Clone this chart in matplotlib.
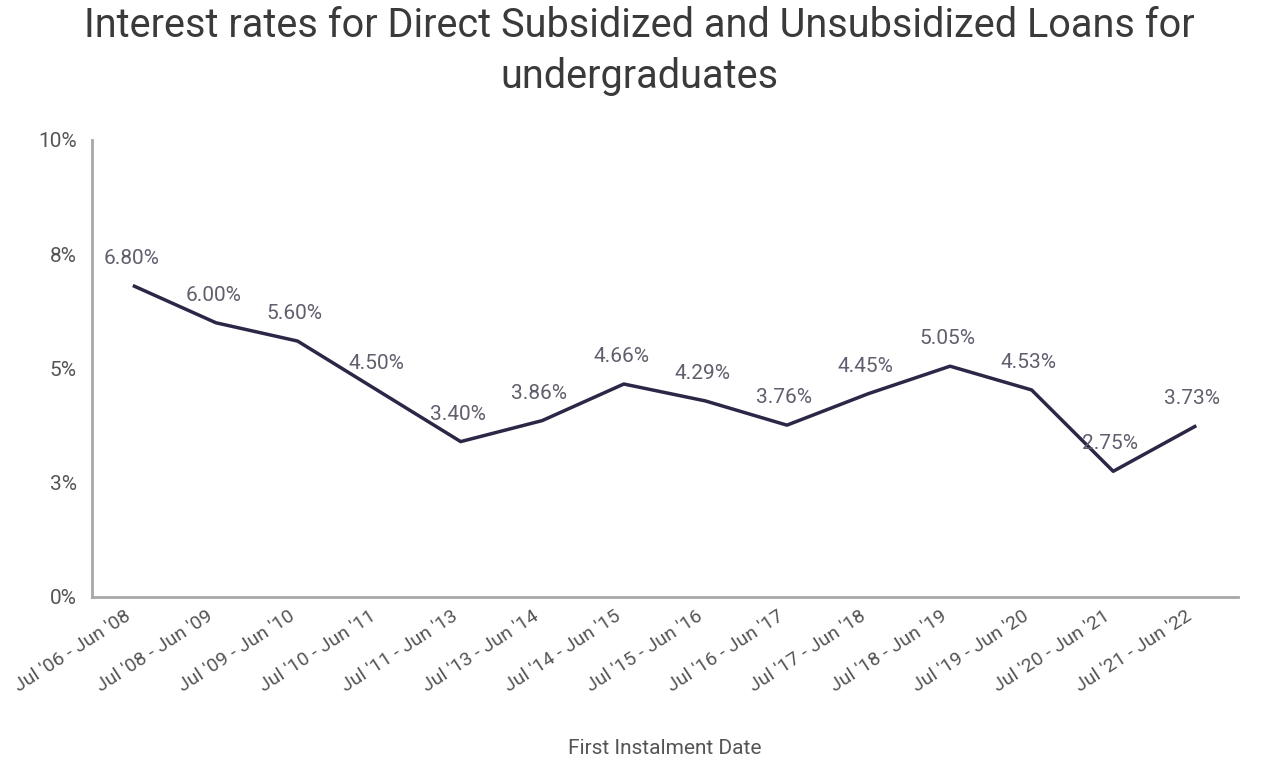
import matplotlib.pyplot as plt
import matplotlib.transforms as mtransforms

plt.rcParams['font.family'] = ['Roboto', 'DejaVu Sans']

periods = ["Jul '06 - Jun '08", "Jul '08 - Jun '09", "Jul '09 - Jun '10", "Jul '10 - Jun '11",
           "Jul '11 - Jun '13", "Jul '13 - Jun '14", "Jul '14 - Jun '15", "Jul '15 - Jun '16",
           "Jul '16 - Jun '17", "Jul '17 - Jun '18", "Jul '18 - Jun '19", "Jul '19 - Jun '20",
           "Jul '20 - Jun '21", "Jul '21 - Jun '22"]
rates = [6.80, 6.00, 5.60, 4.50, 3.40, 3.86, 4.66, 4.29, 3.76, 4.45, 5.05, 4.53, 2.75, 3.73]
yticks = [0, 2.5, 5, 7.5, 10]
ytick_labels = ["0%", "3%", "5%", "8%", "10%"]

fig = plt.figure(figsize=(12.78, 7.6), dpi=100)
ax = fig.add_axes([0.072, 0.2145, 0.8967, 0.6013])

x = list(range(len(rates)))
ax.plot(x, rates, color='#2b2847', linewidth=2.5)

for xi, r in zip(x, rates):
    ax.annotate(f"{r:.2f}%", (xi, r), xytext=(-2, 13), textcoords='offset points',
                ha='center', va='bottom', fontsize=15, color='#5f5f6e')

ax.set_xlim(-0.52, 13.53)
ax.set_ylim(0, 10)
ax.set_yticks(yticks)
ax.set_yticklabels(ytick_labels)
ax.set_xticks(x)
ax.set_xticklabels(periods, rotation=33, ha='right')
offset = mtransforms.ScaledTranslation(14 / 100, 0, fig.dpi_scale_trans)
for lbl in ax.get_xticklabels():
    lbl.set_transform(lbl.get_transform() + offset)

ax.tick_params(axis='y', length=0, labelsize=15, colors='#555555', pad=11)
ax.tick_params(axis='x', length=0, labelsize=14, colors='#555555', pad=7)
for s in ['top', 'right']:
    ax.spines[s].set_visible(False)
for s in ['left', 'bottom']:
    ax.spines[s].set_color('#a8a8a8')
    ax.spines[s].set_linewidth(2)

ax.set_xlabel("First Instalment Date", fontsize=15, color='#555555', labelpad=32)
fig.suptitle("Interest rates for Direct Subsidized and Unsubsidized Loans for\nundergraduates",
             fontsize=28.5, color='#3a3a3a', y=0.992, linespacing=1.4)

fig.savefig("out.png", dpi=100)
